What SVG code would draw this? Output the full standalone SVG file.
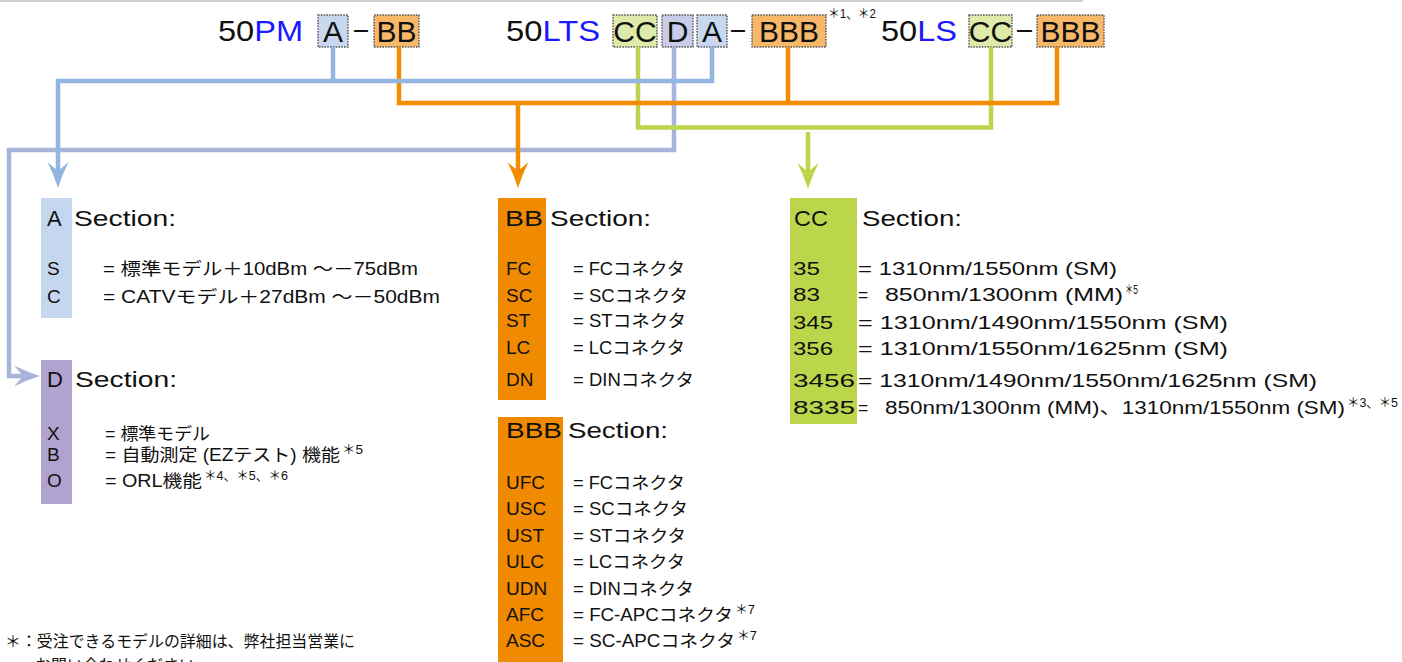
<svg xmlns="http://www.w3.org/2000/svg" width="1402" height="662" viewBox="0 0 1402 662">
<style>
text{font-family:"Liberation Sans","Noto Sans CJK JP",sans-serif;fill:#111}
.hd{font-size:30px}
.bl{fill:#1a1aff}
.bx{stroke:#555;stroke-width:1.4;stroke-dasharray:1.6 1.2}
.ti{font-size:22px}
.rw{font-size:17.5px}
.lb{font-size:19px}
.sp{font-size:13px}
.ln{fill:none;stroke-width:4.5;stroke-linejoin:miter}
</style>
<defs>
<marker id="mBlue" markerUnits="userSpaceOnUse" markerWidth="30" markerHeight="24" refX="9" refY="11" orient="auto"><path d="M26,11 Q13,7 0,0.5 L9,11 L0,21.5 Q13,15 26,11 Z" fill="#93b6e0"/></marker>
<marker id="mOrange" markerUnits="userSpaceOnUse" markerWidth="30" markerHeight="24" refX="9" refY="11" orient="auto"><path d="M26,11 Q13,7 0,0.5 L9,11 L0,21.5 Q13,15 26,11 Z" fill="#f28c00"/></marker>
<marker id="mGreen" markerUnits="userSpaceOnUse" markerWidth="30" markerHeight="24" refX="9" refY="11" orient="auto"><path d="M26,11 Q13,7 0,0.5 L9,11 L0,21.5 Q13,15 26,11 Z" fill="#bcd54c"/></marker>
<marker id="mPurple" markerUnits="userSpaceOnUse" markerWidth="30" markerHeight="24" refX="9" refY="11" orient="auto"><path d="M26,11 Q13,7 0,0.5 L9,11 L0,21.5 Q13,15 26,11 Z" fill="#a9b4dc"/></marker>
</defs>

<line x1="0" y1="1" x2="1083" y2="1" stroke="#cfcfcf" stroke-width="2"/>

<g id="header">
<text class="hd" x="218" y="41" textLength="85" lengthAdjust="spacingAndGlyphs">50<tspan class="bl">PM</tspan></text>
<rect class="bx" x="318" y="15" width="30" height="32" fill="#c8d8ee"/>
<text class="hd" x="333" y="42" text-anchor="middle">A</text>
<text class="hd" x="354" y="39" textLength="14" lengthAdjust="spacingAndGlyphs">–</text>
<rect class="bx" x="374" y="15" width="45" height="32" fill="#f8b86a"/>
<text class="hd" x="396.5" y="42" text-anchor="middle">BB</text>

<text class="hd" x="506" y="41" textLength="94" lengthAdjust="spacingAndGlyphs">50<tspan class="bl">LTS</tspan></text>
<rect class="bx" x="613" y="15" width="44" height="32" fill="#dfeaaa"/>
<text class="hd" x="635" y="42" text-anchor="middle">CC</text>
<rect class="bx" x="662" y="15" width="31" height="32" fill="#c9cde9"/>
<text class="hd" x="677.5" y="42" text-anchor="middle">D</text>
<rect class="bx" x="697" y="15" width="30" height="32" fill="#c8d8ee"/>
<text class="hd" x="712" y="42" text-anchor="middle">A</text>
<text class="hd" x="731" y="39" textLength="14" lengthAdjust="spacingAndGlyphs">–</text>
<rect class="bx" x="752" y="15" width="74" height="32" fill="#f8b86a"/>
<text class="hd" x="789" y="42" text-anchor="middle">BBB</text>
<text class="sp" x="828" y="18" textLength="48" lengthAdjust="spacingAndGlyphs">＊1、＊2</text>

<text class="hd" x="881" y="41" textLength="76" lengthAdjust="spacingAndGlyphs">50<tspan class="bl">LS</tspan></text>
<rect class="bx" x="969" y="15" width="43" height="32" fill="#dfeaaa"/>
<text class="hd" x="990.5" y="42" text-anchor="middle">CC</text>
<text class="hd" x="1017" y="39" textLength="15" lengthAdjust="spacingAndGlyphs">–</text>
<rect class="bx" x="1037" y="15" width="67" height="32" fill="#f8b86a"/>
<text class="hd" x="1070.5" y="42" text-anchor="middle">BBB</text>
</g>

<g id="connectors">
<path class="ln" stroke="#a9b4dc" d="M674,47 V150 H9 V376 H23" marker-end="url(#mPurple)"/>
<path class="ln" stroke="#bcd54c" d="M638,47 V127.5 H991 V47"/>
<path class="ln" stroke="#bcd54c" d="M808,132 V172" marker-end="url(#mGreen)"/>
<path class="ln" stroke="#f28c00" d="M399,47 V103 H1057 V47"/>
<path class="ln" stroke="#f28c00" d="M788,47 V103"/>
<path class="ln" stroke="#f28c00" d="M518,103 V171" marker-end="url(#mOrange)"/>
<path class="ln" stroke="#93b6e0" d="M712,47 V81 H58 V171" marker-end="url(#mBlue)"/>
<path class="ln" stroke="#93b6e0" d="M333,47 V81"/>
</g>

<g id="sectionA">
<rect x="41" y="198" width="31" height="120" fill="#c5d7ee"/>
<text class="ti" x="47" y="226">A</text>
<text class="ti" x="74" y="226" textLength="102" lengthAdjust="spacingAndGlyphs">Section:</text>
<text class="lb" x="47" y="275">S</text>
<text class="rw" x="103" y="275" textLength="315" lengthAdjust="spacingAndGlyphs">= 標準モデル＋10dBm ～－75dBm</text>
<text class="lb" x="47" y="303">C</text>
<text class="rw" x="103" y="303" textLength="337" lengthAdjust="spacingAndGlyphs">= CATVモデル＋27dBm ～－50dBm</text>
</g>

<g id="sectionD">
<rect x="41" y="360" width="31" height="144" fill="#b0a3cf"/>
<text class="ti" x="47" y="387">D</text>
<text class="ti" x="75" y="387" textLength="102" lengthAdjust="spacingAndGlyphs">Section:</text>
<text class="lb" x="47" y="440">X</text>
<text class="rw" x="105" y="440" textLength="105" lengthAdjust="spacingAndGlyphs">= 標準モデル</text>
<text class="lb" x="47" y="461">B</text>
<text class="rw" x="105" y="461" textLength="235" lengthAdjust="spacingAndGlyphs">= 自動測定 (EZテスト) 機能</text>
<text class="sp" x="342" y="454" textLength="21" lengthAdjust="spacingAndGlyphs">＊5</text>
<text class="lb" x="47" y="487">O</text>
<text class="rw" x="105" y="487" textLength="97" lengthAdjust="spacingAndGlyphs">= ORL機能</text>
<text class="sp" x="204" y="480" textLength="84" lengthAdjust="spacingAndGlyphs">＊4、＊5、＊6</text>
</g>

<g id="sectionBB">
<rect x="498" y="198" width="48" height="202" fill="#f08a00"/>
<text class="ti" x="505" y="226" textLength="38" lengthAdjust="spacingAndGlyphs">BB</text>
<text class="ti" x="550" y="226" textLength="101" lengthAdjust="spacingAndGlyphs">Section:</text>
<text class="lb" x="506" y="275">FC</text>
<text class="rw" x="573" y="275" textLength="112" lengthAdjust="spacingAndGlyphs">= FCコネクタ</text>
<text class="lb" x="506" y="302">SC</text>
<text class="rw" x="573" y="302" textLength="115" lengthAdjust="spacingAndGlyphs">= SCコネクタ</text>
<text class="lb" x="506" y="327">ST</text>
<text class="rw" x="573" y="327" textLength="113" lengthAdjust="spacingAndGlyphs">= STコネクタ</text>
<text class="lb" x="506" y="354">LC</text>
<text class="rw" x="573" y="354" textLength="112" lengthAdjust="spacingAndGlyphs">= LCコネクタ</text>
<text class="lb" x="506" y="386">DN</text>
<text class="rw" x="573" y="386" textLength="121" lengthAdjust="spacingAndGlyphs">= DINコネクタ</text>
</g>

<g id="sectionBBB">
<rect x="498" y="417" width="65" height="245" fill="#f08a00"/>
<text class="ti" x="506" y="438" textLength="56" lengthAdjust="spacingAndGlyphs">BBB</text>
<text class="ti" x="568" y="438" textLength="100" lengthAdjust="spacingAndGlyphs">Section:</text>
<text class="lb" x="506" y="489">UFC</text>
<text class="rw" x="573" y="489" textLength="112" lengthAdjust="spacingAndGlyphs">= FCコネクタ</text>
<text class="lb" x="506" y="515">USC</text>
<text class="rw" x="573" y="515" textLength="115" lengthAdjust="spacingAndGlyphs">= SCコネクタ</text>
<text class="lb" x="506" y="542">UST</text>
<text class="rw" x="573" y="542" textLength="113" lengthAdjust="spacingAndGlyphs">= STコネクタ</text>
<text class="lb" x="506" y="568">ULC</text>
<text class="rw" x="573" y="568" textLength="112" lengthAdjust="spacingAndGlyphs">= LCコネクタ</text>
<text class="lb" x="506" y="595">UDN</text>
<text class="rw" x="573" y="595" textLength="121" lengthAdjust="spacingAndGlyphs">= DINコネクタ</text>
<text class="lb" x="506" y="621">AFC</text>
<text class="rw" x="573" y="621" textLength="160" lengthAdjust="spacingAndGlyphs">= FC-APCコネクタ</text>
<text class="sp" x="735" y="614" textLength="20" lengthAdjust="spacingAndGlyphs">＊7</text>
<text class="lb" x="506" y="647">ASC</text>
<text class="rw" x="573" y="647" textLength="162" lengthAdjust="spacingAndGlyphs">= SC-APCコネクタ</text>
<text class="sp" x="737" y="640" textLength="20" lengthAdjust="spacingAndGlyphs">＊7</text>
</g>

<g id="sectionCC">
<rect x="790" y="198" width="67" height="226" fill="#bcd64c"/>
<text class="ti" x="794" y="226" textLength="34" lengthAdjust="spacingAndGlyphs">CC</text>
<text class="ti" x="862" y="226" textLength="100" lengthAdjust="spacingAndGlyphs">Section:</text>
<text class="lb" x="793" y="275" textLength="27" lengthAdjust="spacingAndGlyphs">35</text>
<text class="rw" x="858" y="275" textLength="259" lengthAdjust="spacingAndGlyphs">= 1310nm/1550nm (SM)</text>
<text class="lb" x="793" y="301" textLength="27" lengthAdjust="spacingAndGlyphs">83</text>
<text class="rw" x="858" y="301">=</text>
<text class="rw" x="885" y="301" textLength="238" lengthAdjust="spacingAndGlyphs">850nm/1300nm (MM)</text>
<text class="sp" x="1125" y="294" textLength="13" lengthAdjust="spacingAndGlyphs">＊5</text>
<text class="lb" x="793" y="329" textLength="40" lengthAdjust="spacingAndGlyphs">345</text>
<text class="rw" x="858" y="329" textLength="370" lengthAdjust="spacingAndGlyphs">= 1310nm/1490nm/1550nm (SM)</text>
<text class="lb" x="793" y="355" textLength="40" lengthAdjust="spacingAndGlyphs">356</text>
<text class="rw" x="858" y="355" textLength="370" lengthAdjust="spacingAndGlyphs">= 1310nm/1550nm/1625nm (SM)</text>
<text class="lb" x="793" y="387" textLength="62" lengthAdjust="spacingAndGlyphs">3456</text>
<text class="rw" x="858" y="387" textLength="459" lengthAdjust="spacingAndGlyphs">= 1310nm/1490nm/1550nm/1625nm (SM)</text>
<text class="lb" x="793" y="414" textLength="62" lengthAdjust="spacingAndGlyphs">8335</text>
<text class="rw" x="858" y="414">=</text>
<text class="rw" x="885" y="414" textLength="460" lengthAdjust="spacingAndGlyphs">850nm/1300nm (MM)、1310nm/1550nm (SM)</text>
<text class="sp" x="1347" y="407" textLength="51" lengthAdjust="spacingAndGlyphs">＊3、＊5</text>
</g>

<g id="footnote">
<text class="rw" x="5" y="647" style="font-size:16px" textLength="350" lengthAdjust="spacingAndGlyphs">＊：受注できるモデルの詳細は、弊社担当営業に</text>
<text class="rw" x="35" y="671" style="font-size:16px" textLength="160" lengthAdjust="spacingAndGlyphs">お問い合わせください</text>
</g>
</svg>
